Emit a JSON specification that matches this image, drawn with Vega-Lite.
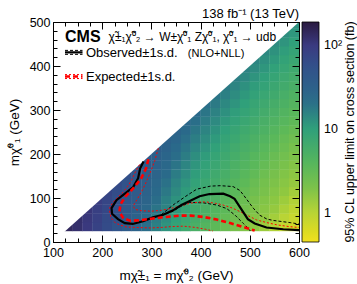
{
  "$schema": "https://vega.github.io/schema/vega-lite/v6.json",
  "width": 246,
  "height": 220,
  "autosize": {"type": "none"},
  "padding": {"left": 53, "top": 22, "right": 58, "bottom": 42},
  "title": {"text": "138 fb⁻¹ (13 TeV)", "anchor": "end", "frame": "group", "fontSize": 13, "fontWeight": "normal", "font": "Liberation Sans", "color": "black", "offset": -5},
  "config": {
    "font": "Liberation Sans",
    "view": {"stroke": "black", "strokeWidth": 1},
    "axis": {"grid": false, "labelFont": "Liberation Sans", "titleFont": "Liberation Sans", "labelColor": "black", "titleColor": "black", "tickColor": "black", "domainColor": "black", "titleFontWeight": "normal"},
    "legend": {"labelFont": "Liberation Sans", "titleFont": "Liberation Sans"}
  },
  "datasets": {
    "lines": [
      {"g":"obs","i":0,"m":284,"mz":183},{"g":"obs","i":1,"m":277,"mz":167},{"g":"obs","i":2,"m":273,"mz":145},{"g":"obs","i":3,"m":263,"mz":125},{"g":"obs","i":4,"m":246,"mz":110},{"g":"obs","i":5,"m":229,"mz":95},{"g":"obs","i":6,"m":219,"mz":77},{"g":"obs","i":7,"m":220,"mz":64},{"g":"obs","i":8,"m":232,"mz":52},{"g":"obs","i":9,"m":246,"mz":43},{"g":"obs","i":10,"m":262,"mz":41},{"g":"obs","i":11,"m":283,"mz":47},{"g":"obs","i":12,"m":303,"mz":56},{"g":"obs","i":13,"m":324,"mz":62},{"g":"obs","i":14,"m":344,"mz":72},{"g":"obs","i":15,"m":361,"mz":84},{"g":"obs","i":16,"m":378,"mz":93},{"g":"obs","i":17,"m":398,"mz":104},{"g":"obs","i":18,"m":418,"mz":109},{"g":"obs","i":19,"m":446,"mz":110},{"g":"obs","i":20,"m":460,"mz":104},{"g":"obs","i":21,"m":469,"mz":98},{"g":"obs","i":22,"m":482,"mz":76},{"g":"obs","i":23,"m":496,"mz":52},{"g":"obs","i":24,"m":510,"mz":42},{"g":"obs","i":25,"m":534,"mz":33},{"g":"obs","i":26,"m":568,"mz":29},{"g":"obs","i":27,"m":600,"mz":27},
      {"g":"obsU","i":0,"m":320,"mz":62},{"g":"obsU","i":1,"m":344,"mz":84},{"g":"obsU","i":2,"m":370,"mz":104},{"g":"obsU","i":3,"m":392,"mz":120},{"g":"obsU","i":4,"m":420,"mz":127},{"g":"obsU","i":5,"m":440,"mz":128},{"g":"obsU","i":6,"m":466,"mz":126},{"g":"obsU","i":7,"m":480,"mz":117},{"g":"obsU","i":8,"m":487,"mz":107},{"g":"obsU","i":9,"m":507,"mz":77},{"g":"obsU","i":10,"m":520,"mz":61},{"g":"obsU","i":11,"m":535,"mz":52},{"g":"obsU","i":12,"m":548,"mz":49},{"g":"obsU","i":13,"m":582,"mz":44},{"g":"obsU","i":14,"m":600,"mz":41},
      {"g":"obsD","i":0,"m":320,"mz":60},{"g":"obsD","i":1,"m":344,"mz":70},{"g":"obsD","i":2,"m":360,"mz":81},{"g":"obsD","i":3,"m":378,"mz":90},{"g":"obsD","i":4,"m":406,"mz":89},{"g":"obsD","i":5,"m":433,"mz":84},{"g":"obsD","i":6,"m":453,"mz":76},{"g":"obsD","i":7,"m":470,"mz":61},{"g":"obsD","i":8,"m":487,"mz":42},{"g":"obsD","i":9,"m":497,"mz":31},{"g":"obsD","i":10,"m":501,"mz":25},
      {"g":"exp","i":0,"m":294,"mz":188},{"g":"exp","i":1,"m":289,"mz":167},{"g":"exp","i":2,"m":279,"mz":144},{"g":"exp","i":3,"m":263,"mz":122},{"g":"exp","i":4,"m":247,"mz":103},{"g":"exp","i":5,"m":237,"mz":85},{"g":"exp","i":6,"m":235,"mz":68},{"g":"exp","i":7,"m":243,"mz":54},{"g":"exp","i":8,"m":258,"mz":48},{"g":"exp","i":9,"m":280,"mz":50},{"g":"exp","i":10,"m":300,"mz":53},{"g":"exp","i":11,"m":330,"mz":57},{"g":"exp","i":12,"m":357,"mz":60},{"g":"exp","i":13,"m":380,"mz":60},{"g":"exp","i":14,"m":405,"mz":57},{"g":"exp","i":15,"m":433,"mz":51},{"g":"exp","i":16,"m":460,"mz":43},{"g":"exp","i":17,"m":487,"mz":34},{"g":"exp","i":18,"m":510,"mz":26},
      {"g":"expU","i":0,"m":314,"mz":213},{"g":"expU","i":1,"m":307,"mz":185},{"g":"expU","i":2,"m":297,"mz":156},{"g":"expU","i":3,"m":289,"mz":135},{"g":"expU","i":4,"m":280,"mz":114},{"g":"expU","i":5,"m":270,"mz":95},{"g":"expU","i":6,"m":263,"mz":82},{"g":"expU","i":7,"m":267,"mz":74},{"g":"expU","i":8,"m":280,"mz":71},{"g":"expU","i":9,"m":300,"mz":70},{"g":"expU","i":10,"m":320,"mz":72},{"g":"expU","i":11,"m":338,"mz":76},{"g":"expU","i":12,"m":360,"mz":82},{"g":"expU","i":13,"m":378,"mz":88},{"g":"expU","i":14,"m":399,"mz":91},{"g":"expU","i":15,"m":412,"mz":91},{"g":"expU","i":16,"m":430,"mz":88},{"g":"expU","i":17,"m":446,"mz":84},{"g":"expU","i":18,"m":465,"mz":77},{"g":"expU","i":19,"m":480,"mz":69},{"g":"expU","i":20,"m":498,"mz":59},{"g":"expU","i":21,"m":514,"mz":50},{"g":"expU","i":22,"m":535,"mz":44},{"g":"expU","i":23,"m":555,"mz":39},{"g":"expU","i":24,"m":580,"mz":35},{"g":"expU","i":25,"m":600,"mz":33},
      {"g":"expD","i":0,"m":276,"mz":176},{"g":"expD","i":1,"m":266,"mz":156},{"g":"expD","i":2,"m":260,"mz":141},{"g":"expD","i":3,"m":252,"mz":127},{"g":"expD","i":4,"m":243,"mz":114},{"g":"expD","i":5,"m":232,"mz":102},{"g":"expD","i":6,"m":223,"mz":92},{"g":"expD","i":7,"m":216,"mz":80},{"g":"expD","i":8,"m":215,"mz":70},{"g":"expD","i":9,"m":218,"mz":55},{"g":"expD","i":10,"m":225,"mz":45},{"g":"expD","i":11,"m":235,"mz":39},{"g":"expD","i":12,"m":250,"mz":34},{"g":"expD","i":13,"m":270,"mz":33},{"g":"expD","i":14,"m":297,"mz":32},{"g":"expD","i":15,"m":320,"mz":33},{"g":"expD","i":16,"m":340,"mz":35},{"g":"expD","i":17,"m":365,"mz":36},{"g":"expD","i":18,"m":390,"mz":33},{"g":"expD","i":19,"m":410,"mz":29},{"g":"expD","i":20,"m":425,"mz":25},
      {"g":"kO","i":0,"m":124.4,"mz":431},{"g":"kO","i":1,"m":160,"mz":431},
      {"g":"kOU","i":0,"m":124.4,"mz":435.5},{"g":"kOU","i":1,"m":160,"mz":435.5},
      {"g":"kOD","i":0,"m":124.4,"mz":426.5},{"g":"kOD","i":1,"m":160,"mz":426.5},
      {"g":"kE","i":0,"m":124.4,"mz":376},{"g":"kE","i":1,"m":160,"mz":376},
      {"g":"kEU","i":0,"m":124.4,"mz":380.5},{"g":"kEU","i":1,"m":160,"mz":380.5},
      {"g":"kED","i":0,"m":124.4,"mz":371.5},{"g":"kED","i":1,"m":160,"mz":371.5}
    ]
  },
  "layer": [
    {
      "data": {"values": [
        {"m":130,"mz":35,"v":140},
        {"m":150,"mz":35,"v":122},{"m":150,"mz":55,"v":125},
        {"m":170,"mz":35,"v":102},{"m":170,"mz":55,"v":105},{"m":170,"mz":75,"v":108},
        {"m":190,"mz":35,"v":82},{"m":190,"mz":55,"v":85},{"m":190,"mz":75,"v":89},{"m":190,"mz":95,"v":92},
        {"m":210,"mz":35,"v":64},{"m":210,"mz":55,"v":67},{"m":210,"mz":75,"v":71},{"m":210,"mz":95,"v":75},{"m":210,"mz":115,"v":78},
        {"m":230,"mz":35,"v":49},{"m":230,"mz":55,"v":53},{"m":230,"mz":75,"v":56},{"m":230,"mz":95,"v":59},{"m":230,"mz":115,"v":63},{"m":230,"mz":135,"v":66},
        {"m":250,"mz":35,"v":37},{"m":250,"mz":55,"v":40},{"m":250,"mz":75,"v":43},{"m":250,"mz":95,"v":46},{"m":250,"mz":115,"v":49},{"m":250,"mz":135,"v":53},{"m":250,"mz":155,"v":56},
        {"m":270,"mz":35,"v":28},{"m":270,"mz":55,"v":30},{"m":270,"mz":75,"v":33},{"m":270,"mz":95,"v":35},{"m":270,"mz":115,"v":38},{"m":270,"mz":135,"v":41},{"m":270,"mz":155,"v":44},{"m":270,"mz":175,"v":47},
        {"m":290,"mz":35,"v":21},{"m":290,"mz":55,"v":23},{"m":290,"mz":75,"v":25},{"m":290,"mz":95,"v":27},{"m":290,"mz":115,"v":29},{"m":290,"mz":135,"v":32},{"m":290,"mz":155,"v":35},{"m":290,"mz":175,"v":38},{"m":290,"mz":195,"v":40},
        {"m":310,"mz":35,"v":16},{"m":310,"mz":55,"v":17},{"m":310,"mz":75,"v":19},{"m":310,"mz":95,"v":21},{"m":310,"mz":115,"v":23},{"m":310,"mz":135,"v":25},{"m":310,"mz":155,"v":27},{"m":310,"mz":175,"v":30},{"m":310,"mz":195,"v":33},{"m":310,"mz":215,"v":35},
        {"m":330,"mz":35,"v":12},{"m":330,"mz":55,"v":13},{"m":330,"mz":75,"v":15},{"m":330,"mz":95,"v":16},{"m":330,"mz":115,"v":18},{"m":330,"mz":135,"v":20},{"m":330,"mz":155,"v":22},{"m":330,"mz":175,"v":24},{"m":330,"mz":195,"v":26},{"m":330,"mz":215,"v":29},{"m":330,"mz":235,"v":31},
        {"m":350,"mz":35,"v":9},{"m":350,"mz":55,"v":10},{"m":350,"mz":75,"v":11},{"m":350,"mz":95,"v":12.3},{"m":350,"mz":115,"v":13.7},{"m":350,"mz":135,"v":15},{"m":350,"mz":155,"v":17},{"m":350,"mz":175,"v":19},{"m":350,"mz":195,"v":21},{"m":350,"mz":215,"v":23},{"m":350,"mz":235,"v":26},{"m":350,"mz":255,"v":28},
        {"m":370,"mz":35,"v":6.9},{"m":370,"mz":55,"v":7.7},{"m":370,"mz":75,"v":8.5},{"m":370,"mz":95,"v":9.5},{"m":370,"mz":115,"v":10.7},{"m":370,"mz":135,"v":11.9},{"m":370,"mz":155,"v":13.3},{"m":370,"mz":175,"v":14.8},{"m":370,"mz":195,"v":16.6},{"m":370,"mz":215,"v":18.5},{"m":370,"mz":235,"v":20.6},{"m":370,"mz":255,"v":23},{"m":370,"mz":275,"v":25},
        {"m":390,"mz":35,"v":5.3},{"m":390,"mz":55,"v":5.9},{"m":390,"mz":75,"v":6.6},{"m":390,"mz":95,"v":7.4},{"m":390,"mz":115,"v":8.3},{"m":390,"mz":135,"v":9.3},{"m":390,"mz":155,"v":10.5},{"m":390,"mz":175,"v":11.7},{"m":390,"mz":195,"v":13.1},{"m":390,"mz":215,"v":14.7},{"m":390,"mz":235,"v":16.4},{"m":390,"mz":255,"v":18.5},{"m":390,"mz":275,"v":20.7},{"m":390,"mz":295,"v":22.5},
        {"m":410,"mz":35,"v":4.2},{"m":410,"mz":55,"v":4.8},{"m":410,"mz":75,"v":5.3},{"m":410,"mz":95,"v":6},{"m":410,"mz":115,"v":6.7},{"m":410,"mz":135,"v":7.5},{"m":410,"mz":155,"v":8.4},{"m":410,"mz":175,"v":9.4},{"m":410,"mz":195,"v":10.6},{"m":410,"mz":215,"v":11.9},{"m":410,"mz":235,"v":13.3},{"m":410,"mz":255,"v":15},{"m":410,"mz":275,"v":16.8},{"m":410,"mz":295,"v":18.8},{"m":410,"mz":315,"v":20.5},
        {"m":430,"mz":35,"v":3.4},{"m":430,"mz":55,"v":3.8},{"m":430,"mz":75,"v":4.3},{"m":430,"mz":95,"v":4.8},{"m":430,"mz":115,"v":5.4},{"m":430,"mz":135,"v":6.1},{"m":430,"mz":155,"v":6.8},{"m":430,"mz":175,"v":7.7},{"m":430,"mz":195,"v":8.6},{"m":430,"mz":215,"v":9.7},{"m":430,"mz":235,"v":10.9},{"m":430,"mz":255,"v":12.3},{"m":430,"mz":275,"v":13.8},{"m":430,"mz":295,"v":15.5},{"m":430,"mz":315,"v":17.4},{"m":430,"mz":335,"v":19},
        {"m":450,"mz":35,"v":2.8},{"m":450,"mz":55,"v":3.1},{"m":450,"mz":75,"v":3.5},{"m":450,"mz":95,"v":3.9},{"m":450,"mz":115,"v":4.4},{"m":450,"mz":135,"v":5},{"m":450,"mz":155,"v":5.6},{"m":450,"mz":175,"v":6.3},{"m":450,"mz":195,"v":7},{"m":450,"mz":215,"v":7.9},{"m":450,"mz":235,"v":8.9},{"m":450,"mz":255,"v":10},{"m":450,"mz":275,"v":11.3},{"m":450,"mz":295,"v":12.7},{"m":450,"mz":315,"v":14.3},{"m":450,"mz":335,"v":16},{"m":450,"mz":355,"v":17.5},
        {"m":470,"mz":35,"v":2.2},{"m":470,"mz":55,"v":2.5},{"m":470,"mz":75,"v":2.8},{"m":470,"mz":95,"v":3.2},{"m":470,"mz":115,"v":3.6},{"m":470,"mz":135,"v":4.1},{"m":470,"mz":155,"v":4.6},{"m":470,"mz":175,"v":5.1},{"m":470,"mz":195,"v":5.8},{"m":470,"mz":215,"v":6.5},{"m":470,"mz":235,"v":7.4},{"m":470,"mz":255,"v":8.3},{"m":470,"mz":275,"v":9.4},{"m":470,"mz":295,"v":10.5},{"m":470,"mz":315,"v":11.9},{"m":470,"mz":335,"v":13.4},{"m":470,"mz":355,"v":15.1},{"m":470,"mz":375,"v":16.5},
        {"m":490,"mz":35,"v":1.86},{"m":490,"mz":55,"v":2.1},{"m":490,"mz":75,"v":2.4},{"m":490,"mz":95,"v":2.7},{"m":490,"mz":115,"v":3},{"m":490,"mz":135,"v":3.4},{"m":490,"mz":155,"v":3.8},{"m":490,"mz":175,"v":4.3},{"m":490,"mz":195,"v":4.8},{"m":490,"mz":215,"v":5.4},{"m":490,"mz":235,"v":6.1},{"m":490,"mz":255,"v":6.9},{"m":490,"mz":275,"v":7.8},{"m":490,"mz":295,"v":8.8},{"m":490,"mz":315,"v":9.9},{"m":490,"mz":335,"v":11.2},{"m":490,"mz":355,"v":12.6},{"m":490,"mz":375,"v":14.2},{"m":490,"mz":395,"v":15.5},
        {"m":510,"mz":35,"v":1.54},{"m":510,"mz":55,"v":1.74},{"m":510,"mz":75,"v":1.96},{"m":510,"mz":95,"v":2.2},{"m":510,"mz":115,"v":2.5},{"m":510,"mz":135,"v":2.8},{"m":510,"mz":155,"v":3.2},{"m":510,"mz":175,"v":3.6},{"m":510,"mz":195,"v":4},{"m":510,"mz":215,"v":4.6},{"m":510,"mz":235,"v":5.1},{"m":510,"mz":255,"v":5.8},{"m":510,"mz":275,"v":6.5},{"m":510,"mz":295,"v":7.4},{"m":510,"mz":315,"v":8.3},{"m":510,"mz":335,"v":9.4},{"m":510,"mz":355,"v":10.6},{"m":510,"mz":375,"v":12},{"m":510,"mz":395,"v":13.5},{"m":510,"mz":415,"v":14.8},
        {"m":530,"mz":35,"v":1.28},{"m":530,"mz":55,"v":1.44},{"m":530,"mz":75,"v":1.63},{"m":530,"mz":95,"v":1.84},{"m":530,"mz":115,"v":2.1},{"m":530,"mz":135,"v":2.3},{"m":530,"mz":155,"v":2.6},{"m":530,"mz":175,"v":3},{"m":530,"mz":195,"v":3.4},{"m":530,"mz":215,"v":3.8},{"m":530,"mz":235,"v":4.3},{"m":530,"mz":255,"v":4.9},{"m":530,"mz":275,"v":5.5},{"m":530,"mz":295,"v":6.2},{"m":530,"mz":315,"v":7},{"m":530,"mz":335,"v":7.9},{"m":530,"mz":355,"v":9},{"m":530,"mz":375,"v":10.1},{"m":530,"mz":395,"v":11.5},{"m":530,"mz":415,"v":12.9},{"m":530,"mz":435,"v":14.2},
        {"m":550,"mz":35,"v":1.06},{"m":550,"mz":55,"v":1.2},{"m":550,"mz":75,"v":1.36},{"m":550,"mz":95,"v":1.54},{"m":550,"mz":115,"v":1.74},{"m":550,"mz":135,"v":1.97},{"m":550,"mz":155,"v":2.2},{"m":550,"mz":175,"v":2.5},{"m":550,"mz":195,"v":2.8},{"m":550,"mz":215,"v":3.2},{"m":550,"mz":235,"v":3.6},{"m":550,"mz":255,"v":4.1},{"m":550,"mz":275,"v":4.6},{"m":550,"mz":295,"v":5.2},{"m":550,"mz":315,"v":5.9},{"m":550,"mz":335,"v":6.7},{"m":550,"mz":355,"v":7.6},{"m":550,"mz":375,"v":8.6},{"m":550,"mz":395,"v":9.7},{"m":550,"mz":415,"v":11},{"m":550,"mz":435,"v":12.4},{"m":550,"mz":455,"v":13.6},
        {"m":570,"mz":35,"v":0.87},{"m":570,"mz":55,"v":0.99},{"m":570,"mz":75,"v":1.12},{"m":570,"mz":95,"v":1.27},{"m":570,"mz":115,"v":1.44},{"m":570,"mz":135,"v":1.63},{"m":570,"mz":155,"v":1.84},{"m":570,"mz":175,"v":2.1},{"m":570,"mz":195,"v":2.4},{"m":570,"mz":215,"v":2.7},{"m":570,"mz":235,"v":3},{"m":570,"mz":255,"v":3.4},{"m":570,"mz":275,"v":3.9},{"m":570,"mz":295,"v":4.4},{"m":570,"mz":315,"v":5},{"m":570,"mz":335,"v":5.6},{"m":570,"mz":355,"v":6.4},{"m":570,"mz":375,"v":7.2},{"m":570,"mz":395,"v":8.2},{"m":570,"mz":415,"v":9.2},{"m":570,"mz":435,"v":10.5},{"m":570,"mz":455,"v":11.9},{"m":570,"mz":475,"v":13},
        {"m":590,"mz":35,"v":0.72},{"m":590,"mz":55,"v":0.82},{"m":590,"mz":75,"v":0.93},{"m":590,"mz":95,"v":1.05},{"m":590,"mz":115,"v":1.2},{"m":590,"mz":135,"v":1.36},{"m":590,"mz":155,"v":1.53},{"m":590,"mz":175,"v":1.74},{"m":590,"mz":195,"v":1.97},{"m":590,"mz":215,"v":2.2},{"m":590,"mz":235,"v":2.5},{"m":590,"mz":255,"v":2.9},{"m":590,"mz":275,"v":3.3},{"m":590,"mz":295,"v":3.7},{"m":590,"mz":315,"v":4.2},{"m":590,"mz":335,"v":4.7},{"m":590,"mz":355,"v":5.4},{"m":590,"mz":375,"v":6.1},{"m":590,"mz":395,"v":6.9},{"m":590,"mz":415,"v":7.8},{"m":590,"mz":435,"v":8.9},{"m":590,"mz":455,"v":10},{"m":590,"mz":475,"v":11.4},{"m":590,"mz":495,"v":12.5}
      ]},
      "mark": {"type": "rect", "width": 10.2, "height": 9.2, "clip": true},
      "encoding": {
        "x": {"field": "m", "type": "quantitative", "scale": {"domain": [100, 600], "nice": false, "zero": false},
          "axis": {"orient": "bottom", "values": [100,125,150,175,200,225,250,275,300,325,350,375,400,425,450,475,500,525,550,575,600],
            "labelExpr": "datum.value % 100 === 0 ? datum.label : ''",
            "tickSize": {"condition": {"test": "datum.value % 100 === 0", "value": -7}, "value": -4},
            "labelPadding": 11, "labelFontSize": 12.5, "labelFlush": false, "labelOverlap": false,
            "title": "mχ̃±₁ = mχ̃⁰₂  (GeV)", "titleFontSize": 13.5, "titlePadding": 7, "zindex": 1}},
        "y": {"field": "mz", "type": "quantitative", "scale": {"domain": [0, 500], "nice": false, "zero": false},
          "axis": {"orient": "left", "values": [0,20,40,60,80,100,120,140,160,180,200,220,240,260,280,300,320,340,360,380,400,420,440,460,480,500],
            "labelExpr": "datum.value % 100 === 0 ? datum.label : ''",
            "tickSize": {"condition": {"test": "datum.value % 100 === 0", "value": -7}, "value": -4},
            "labelPadding": 10, "labelFontSize": 12.5, "labelFlush": false, "labelOverlap": false,
            "title": "mχ̃⁰₁ (GeV)", "titleFontSize": 13.5, "titlePadding": 8, "zindex": 1}},
        "color": {"field": "v", "type": "quantitative",
          "scale": {"type": "log", "domain": [0.45, 0.57, 1, 1.42, 3.6, 10, 22, 57, 100, 190],
            "range": ["#f0e020", "#e0dc20", "#b8d435", "#90c840", "#5ab85a", "#30a07a", "#2a6a8a", "#32508a", "#3a3a80", "#2a1a40"],
            "interpolate": "rgb"},
          "legend": {"type": "gradient", "orient": "right", "offset": 2, "direction": "vertical",
            "gradientLength": 220, "gradientThickness": 17, "gradientStrokeColor": "black", "gradientStrokeWidth": 0.8,
            "values": [1, 10, 100], "labelExpr": "datum.value === 100 ? '10²' : datum.label",
            "labelFontSize": 12.5, "labelOffset": 5, "labelOverlap": false, "labelColor": "black",
            "title": "95% CL upper limit on cross section (fb)", "titleOrient": "right", "titleAnchor": "middle",
            "titleFontSize": 12.5, "titleFontWeight": "normal", "titleColor": "black", "titlePadding": 2, "titleLimit": 300,
            "encode": {"title": {"update": {"angle": {"value": 270}, "baseline": {"value": "top"}}}}}}
      }
    },
    {
      "data": {"values": [{"m": 100, "mz": 0}, {"m": 600, "mz": 500}]},
      "mark": {"type": "area", "color": "white", "opacity": 1},
      "encoding": {
        "x": {"field": "m", "type": "quantitative", "scale": {"domain": [100, 600], "nice": false, "zero": false},
          "axis": {"orient": "top", "labels": false, "title": null, "domain": true,
            "values": [100,125,150,175,200,225,250,275,300,325,350,375,400,425,450,475,500,525,550,575,600],
            "tickSize": {"condition": {"test": "datum.value % 100 === 0", "value": -7}, "value": -4}, "zindex": 1}},
        "y": {"field": "mz", "type": "quantitative", "scale": {"domain": [0, 500], "nice": false, "zero": false},
          "axis": {"orient": "right", "labels": false, "title": null, "domain": true,
            "values": [0,20,40,60,80,100,120,140,160,180,200,220,240,260,280,300,320,340,360,380,400,420,440,460,480,500],
            "tickSize": {"condition": {"test": "datum.value % 100 === 0", "value": -7}, "value": -4}, "zindex": 1}},
        "y2": {"datum": 500}
      }
    },
    {
      "encoding": {
        "x": {"field": "m", "type": "quantitative", "scale": {"domain": [100, 600], "nice": false, "zero": false}, "axis": null},
        "y": {"field": "mz", "type": "quantitative", "scale": {"domain": [0, 500], "nice": false, "zero": false}, "axis": null}
      },
      "layer": [
        {
          "data": {"name": "lines"},
          "transform": [{"filter": {"field": "g", "oneOf": ["obsU", "obsD", "kOU", "kOD"]}}],
          "mark": {"type": "line", "color": "black", "strokeWidth": 1, "strokeDash": [3, 2], "clip": true},
          "encoding": {"detail": {"field": "g"}, "order": {"field": "i", "type": "quantitative"}}
        },
        {
          "data": {"name": "lines"},
          "transform": [{"filter": {"field": "g", "oneOf": ["expU", "expD", "kEU", "kED"]}}],
          "mark": {"type": "line", "color": "#ff0000", "strokeWidth": 1, "strokeDash": [2, 2], "clip": true},
          "encoding": {"detail": {"field": "g"}, "order": {"field": "i", "type": "quantitative"}}
        },
        {
          "data": {"name": "lines"},
          "transform": [{"filter": {"field": "g", "oneOf": ["obs", "kO"]}}],
          "mark": {"type": "line", "color": "black", "strokeWidth": 2.2, "clip": true},
          "encoding": {"detail": {"field": "g"}, "order": {"field": "i", "type": "quantitative"}}
        },
        {
          "data": {"name": "lines"},
          "transform": [{"filter": {"field": "g", "oneOf": ["exp", "kE"]}}],
          "mark": {"type": "line", "color": "#ff0000", "strokeWidth": 2.6, "strokeDash": [5, 3], "clip": true},
          "encoding": {"detail": {"field": "g"}, "order": {"field": "i", "type": "quantitative"}}
        },
        {
          "data": {"values": [{"t": "CMS", "m": 124.4, "mz": 466.6}]},
          "mark": {"type": "text", "align": "left", "baseline": "middle", "fontSize": 16, "fontWeight": "bold", "font": "Liberation Sans", "color": "black"},
          "encoding": {"text": {"field": "t"}}
        },
        {
          "data": {"values": [{"t": "χ̃±₁χ̃⁰₂ → W±χ̃⁰₁ Zχ̃⁰₁, χ̃⁰₁ → udb", "m": 213, "mz": 467}]},
          "mark": {"type": "text", "align": "left", "baseline": "middle", "fontSize": 12, "font": "Liberation Sans", "color": "black"},
          "encoding": {"text": {"field": "t"}}
        },
        {
          "data": {"values": [{"t": "Observed±1s.d.", "m": 167, "mz": 430}, {"t": "Expected±1s.d.", "m": 167, "mz": 376}]},
          "mark": {"type": "text", "align": "left", "baseline": "middle", "fontSize": 13, "font": "Liberation Sans", "color": "black"},
          "encoding": {"text": {"field": "t"}}
        },
        {
          "data": {"values": [{"t": "(NLO+NLL)", "m": 374, "mz": 428}]},
          "mark": {"type": "text", "align": "left", "baseline": "middle", "fontSize": 11, "font": "Liberation Sans", "color": "black"},
          "encoding": {"text": {"field": "t"}}
        }
      ]
    }
  ],
  "resolve": {"axis": {"x": "independent", "y": "independent"}}
}
